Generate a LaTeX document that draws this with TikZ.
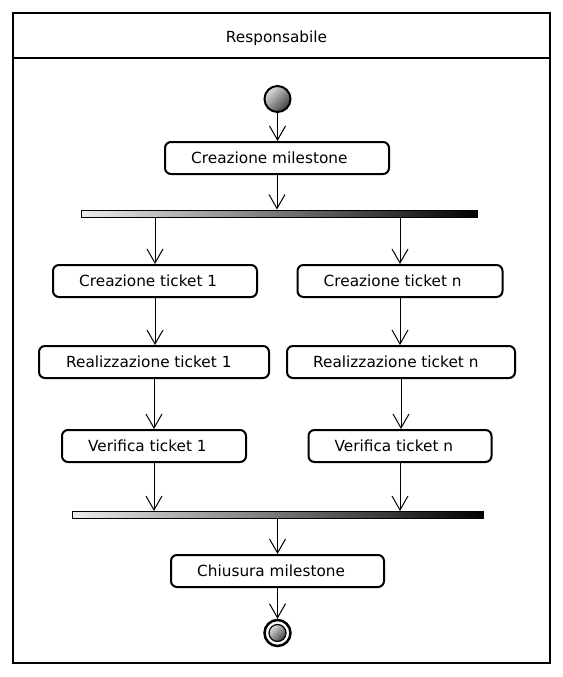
\documentclass[tikz,border=0pt]{standalone}
\usepackage{fontspec}
\setmainfont{DejaVu Sans}
\usetikzlibrary{arrows.meta,shapes.geometric}
\tikzset{
  act/.style={draw=black, line width=2pt, rounded corners=6pt, minimum height=32pt, inner sep=0pt, fill=white},
  lbl/.style={anchor=west, inner sep=0pt, font=\fontsize{15.3}{18}\selectfont},
  forkbar/.style={draw=black, line width=1pt, left color=gray!15, right color=black, minimum height=7pt, inner sep=0pt},
  arr/.style={line width=1pt, -{Straight Barb[length=14pt,width=16pt,line width=1pt]}},
  ballshade/.style={top color=gray!25, bottom color=black!75, shading angle=45}
}
\begin{document}
\begin{tikzpicture}[x=1pt,y=-1pt]
\useasboundingbox (0,0) rectangle (562,677);
% frame
\draw[line width=2.5pt] (13,13) rectangle (550,663);
\draw[line width=2.5pt] (13,58) -- (550,58);
\node[inner sep=0pt, font=\fontsize{15.3}{18}\selectfont] (title) at (276.5,38) {Responsabile};
% start
\node[circle, draw=black, line width=2pt, minimum size=26pt, inner sep=0pt, ballshade] (start) at (277.5,99) {};
% activities
\node[act, minimum width=224pt] (cm) at (277,158) {};
\node[lbl] (cmt) at ([xshift=27pt]cm.west) {Creazione milestone};
\node[forkbar, minimum width=396pt] (f1) at (279,213.5) {};
\node[act, minimum width=204pt] (ct1) at (155,281) {};
\node[lbl] (ct1t) at ([xshift=27pt]ct1.west) {Creazione ticket 1};
\node[act, minimum width=205pt] (ctn) at (400,281) {};
\node[lbl] (ctnt) at ([xshift=27pt]ctn.west) {Creazione ticket n};
\node[act, minimum width=230pt] (rt1) at (154,362) {};
\node[lbl] (rt1t) at ([xshift=28pt]rt1.west) {Realizzazione ticket 1};
\node[act, minimum width=228pt] (rtn) at (401,362) {};
\node[lbl] (rtnt) at ([xshift=27pt]rtn.west) {Realizzazione ticket n};
\node[act, minimum width=184pt] (vt1) at (154,446) {};
\node[lbl] (vt1t) at ([xshift=27pt]vt1.west) {Verifica ticket 1};
\node[act, minimum width=183pt] (vtn) at (400,446) {};
\node[lbl] (vtnt) at ([xshift=27pt]vtn.west) {Verifica ticket n};
\node[forkbar, minimum width=411pt] (f2) at (277.5,515) {};
\node[act, minimum width=213pt] (chm) at (277.5,571) {};
\node[lbl] (chmt) at ([xshift=27pt]chm.west) {Chiusura milestone};
% end
\node[circle, draw=black, line width=2.5pt, minimum size=26pt, inner sep=0pt, fill=white] (end) at (277.5,633) {};
\node[circle, draw=black, line width=1.2pt, minimum size=17pt, inner sep=0pt, ballshade] (endin) at (end.center) {};
% connectors
\draw[arr] (start) -- (start |- cm.north);
\draw[arr] (cm.south) -- (cm.south |- f1.north);
\draw[arr] (f1.south -| ct1.north) -- (ct1.north);
\draw[arr] (f1.south -| ctn.north) -- (ctn.north);
\draw[arr] (ct1.south) -- (ct1.south |- rt1.north);
\draw[arr] (ctn.south) -- (ctn.south |- rtn.north);
\draw[arr] (rt1.south) -- (rt1.south |- vt1.north);
\draw[arr] (rtn.south) -- (rtn.south |- vtn.north);
\draw[arr] (vt1.south) -- (vt1.south |- f2.north);
\draw[arr] (vtn.south) -- (vtn.south |- f2.north);
\draw[arr] (f2.south -| chm.north) -- (chm.north);
\draw[arr] (chm.south) -- (end);
\end{tikzpicture}
\end{document}
